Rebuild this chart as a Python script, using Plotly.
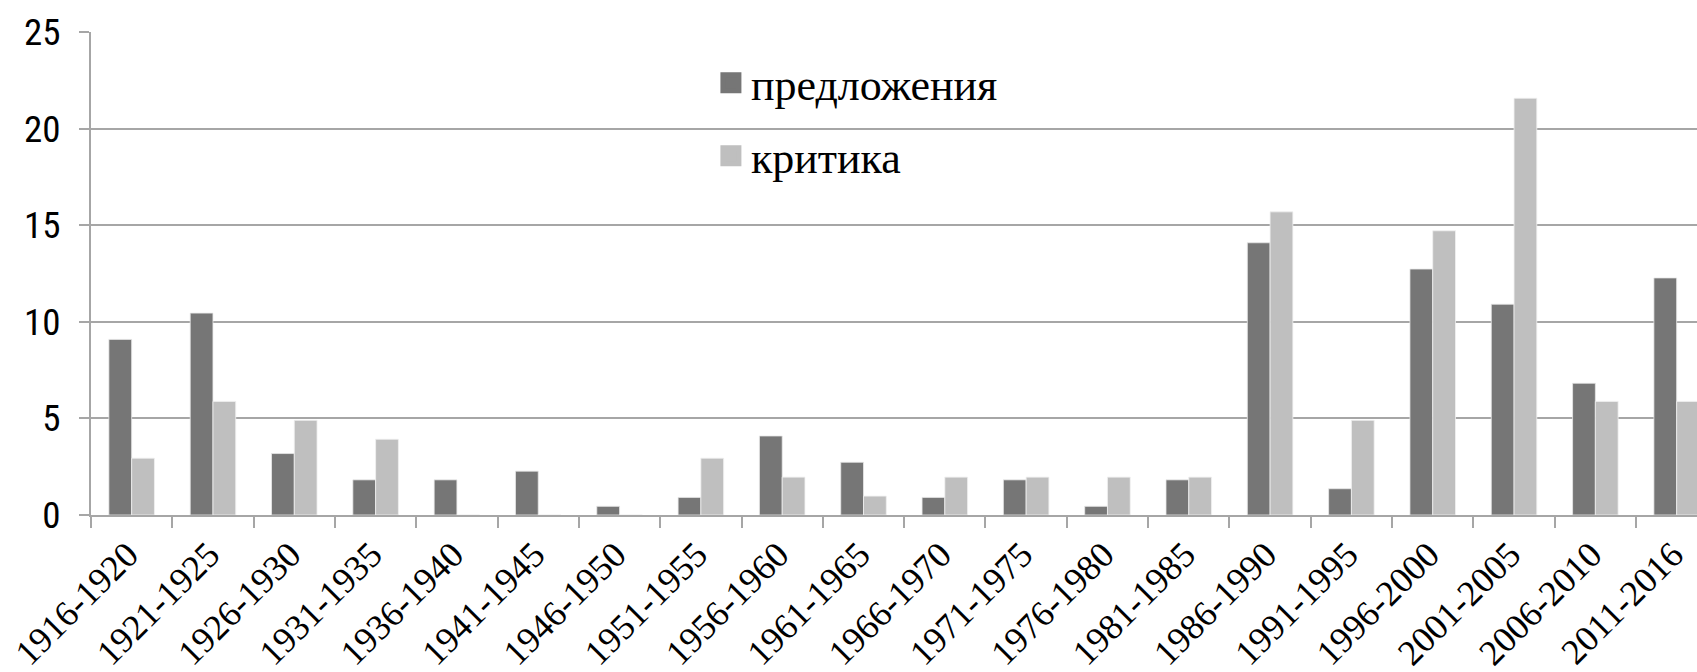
import plotly.graph_objects as go

categories = ["1916-1920", "1921-1925", "1926-1930", "1931-1935", "1936-1940",
              "1941-1945", "1946-1950", "1951-1955", "1956-1960", "1961-1965",
              "1966-1970", "1971-1975", "1976-1980", "1981-1985", "1986-1990",
              "1991-1995", "1996-2000", "2001-2005", "2006-2010", "2011-2016"]
predlozheniya = [9.09, 10.45, 3.18, 1.82, 1.82, 2.27, 0.45, 0.91, 4.09, 2.73,
                 0.91, 1.82, 0.45, 1.82, 14.09, 1.36, 12.73, 10.91, 6.82, 12.27]
kritika = [2.94, 5.88, 4.90, 3.92, 0, 0, 0, 2.94, 1.96, 0.98,
           1.96, 1.96, 1.96, 1.96, 15.69, 4.90, 14.71, 21.57, 5.88, 5.88]
series_names = ["предложения", "критика"]
y_ticks = [0, 5, 10, 15, 20, 25]

DARK = "#767676"
LIGHT = "#bfbfbf"
GRID = "#a6a6a6"
SERIF = "Liberation Serif"
NARROW = "Roboto Condensed"

fig = go.Figure()
fig.add_trace(go.Bar(x=categories, y=predlozheniya, name=series_names[0],
                     marker=dict(color=DARK, line=dict(color="#e8e8e8", width=0.8)),
                     showlegend=False, legendgroup="p"))
fig.add_trace(go.Bar(x=categories, y=kritika, name=series_names[1],
                     marker=dict(color=LIGHT, line=dict(color="#f0f0f0", width=0.8)),
                     showlegend=False, legendgroup="k"))
# legend proxies (larger square symbols)
fig.add_trace(go.Scatter(x=[None], y=[None], mode="markers", name=series_names[0],
                         marker=dict(symbol="square", size=16, color=DARK,
                                     line=dict(color=DARK, width=5)),
                         legendgroup="p", legend="legend", hoverinfo="skip"))
fig.add_trace(go.Scatter(x=[None], y=[None], mode="markers", name=series_names[1],
                         marker=dict(symbol="square", size=16, color=LIGHT,
                                     line=dict(color=LIGHT, width=5)),
                         legendgroup="k", legend="legend2", hoverinfo="skip"))

legend_font = dict(family=SERIF, size=44, color="black")

fig.update_layout(
    template="none",
    font=dict(family=SERIF, color="black"),
    width=1697, height=672,
    margin=dict(l=91, r=0, t=32, b=157, autoexpand=False),
    paper_bgcolor="white", plot_bgcolor="white",
    barmode="group", bargap=0.44, bargroupgap=0,
    legend=dict(x=0.386, y=0.894, xanchor="left", yanchor="middle",
                font=legend_font, bgcolor="rgba(0,0,0,0)", borderwidth=0),
    legend2=dict(x=0.386, y=0.743, xanchor="left", yanchor="middle",
                 font=legend_font, bgcolor="rgba(0,0,0,0)", borderwidth=0),
)
fig.update_xaxes(type="category", range=[-0.5, 19.25], automargin=False,
                 tickson="boundaries", ticks="outside", ticklen=11, tickwidth=2,
                 tickcolor=GRID, showline=True, linecolor=GRID, linewidth=2,
                 showgrid=False, zeroline=False, tickangle=-45,
                 ticklabelshift=-4, ticklabelstandoff=2,
                 tickfont=dict(family=SERIF, size=36, color="black"))
fig.update_yaxes(range=[0, 25], tickvals=y_ticks, ticks="outside", ticklen=10,
                 tickwidth=2, tickcolor=GRID, showline=True, linecolor=GRID,
                 linewidth=2, showgrid=True, gridcolor=GRID, gridwidth=2,
                 zeroline=False, ticklabelstandoff=11, automargin=False,
                 tickfont=dict(family=NARROW, size=37, color="black"))

fig.write_html("out.html", config={"displayModeBar": False},
               post_script="document.body.style.margin='0';")
